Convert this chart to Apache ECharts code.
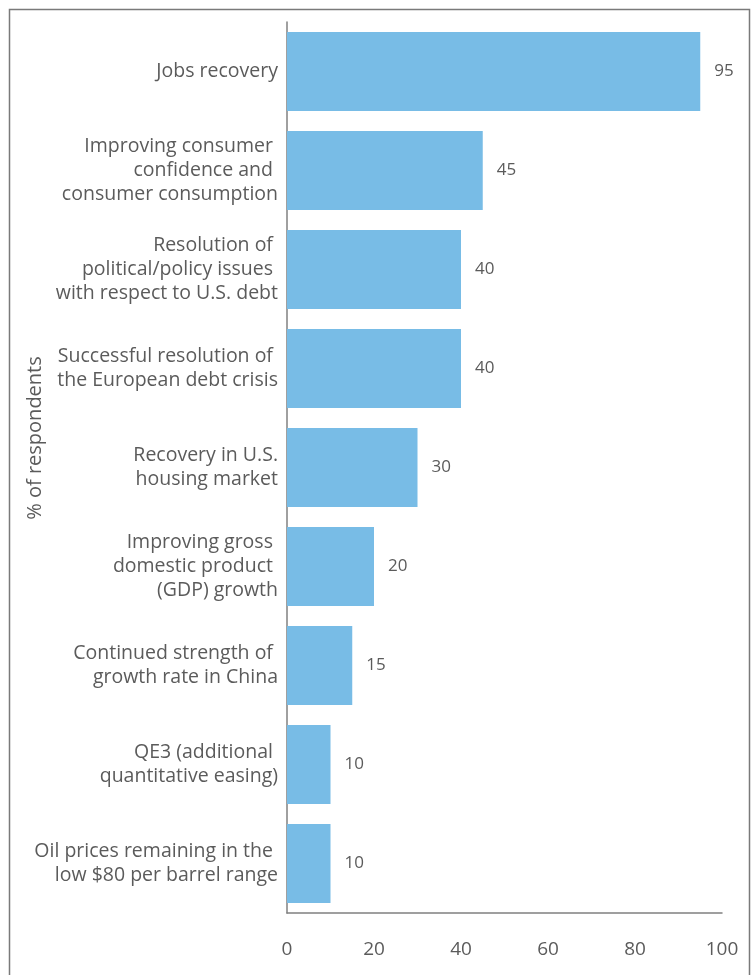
<!DOCTYPE html>
<html>
<head>
<meta charset="utf-8">
<script src="https://cdn.jsdelivr.net/npm/echarts@6/dist/echarts.min.js"></script>
<style>
  html, body { margin: 0; padding: 0; background: #fff; }
  #main { width: 755px; height: 975px; }
</style>
</head>
<body>
<div id="main"></div>
<script>
// categories from top to bottom, trailing spaces keep the reference's ragged right edge
const categories = [
	"Jobs recovery",
	"Improving consumer \nconfidence and \nconsumer consumption",
	"Resolution of \npolitical/policy issues \nwith respect to U.S. debt",
	"Successful resolution of \nthe European debt crisis",
	"Recovery in U.S.\nhousing market",
	"Improving gross \ndomestic product \n(GDP) growth",
	"Continued strength of \ngrowth rate in China",
	"QE3 (additional \nquantitative easing)",
	"Oil prices remaining in the \nlow $80 per barrel range",
];
const values = [95, 45, 40, 40, 30, 20, 15, 10, 10];
const xTicks = [0, 20, 40, 60, 80, 100];

const font = "'Open Sans', sans-serif";
const textColor = "#5b5b5b";

let myChart = echarts.init(document.getElementById("main"));

let options = {
	animation: false,
	grid: { left: 287, right: 33, top: 22, bottom: 62, containLabel: false },
	graphic: [
		{
			type: "rect",
			shape: { x: 9.5, y: 9.5, width: 740, height: 1000 },
			style: { fill: "none", stroke: "#7a7a7a", lineWidth: 1.5 },
			silent: true,
		},
		{
			type: "text",
			x: 35,
			y: 438,
			rotation: Math.PI / 2,
			style: {
				text: "% of respondents",
				font: "20px " + font,
				fill: textColor,
				align: "center",
				verticalAlign: "middle",
			},
		},
	],
	xAxis: {
		type: "value",
		min: xTicks[0],
		max: xTicks[xTicks.length - 1],
		interval: 20,
		axisLine: { show: true, lineStyle: { color: "#808080", width: 1.5 } },
		axisTick: { show: false },
		splitLine: { show: false },
		axisLabel: {
			margin: 27,
			fontSize: 19,
			fontFamily: font,
			color: textColor,
		},
	},
	yAxis: {
		type: "category",
		inverse: true,
		data: categories,
		axisLine: { show: true, lineStyle: { color: "#808080", width: 1.5 } },
		axisTick: { show: false },
		axisLabel: {
			margin: 9,
			fontSize: 19.5,
			lineHeight: 24,
			fontFamily: font,
			color: textColor,
			align: "right",
		},
	},
	series: [
		{
			name: "% of respondents",
			type: "bar",
			data: values,
			barCategoryGap: "20%",
			itemStyle: { color: "#78bce6" },
			label: {
				show: true,
				position: "right",
				distance: 14,
				fontSize: 17,
				fontFamily: font,
				color: textColor,
			},
		},
	],
};

myChart.setOption(options);
</script>
</body>
</html>
